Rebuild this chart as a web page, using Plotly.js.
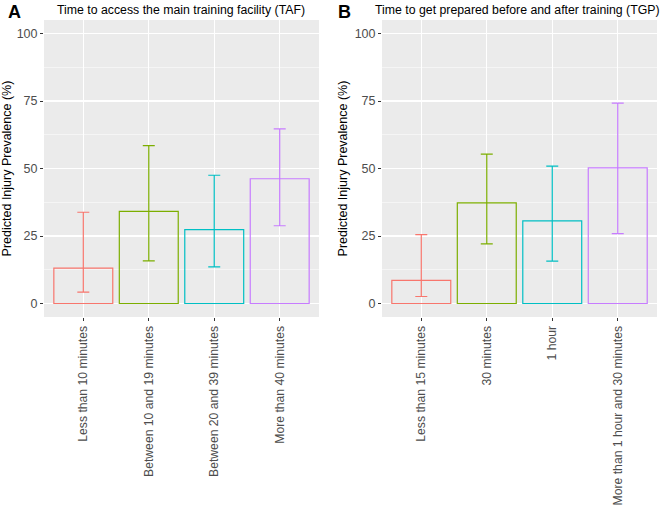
<!DOCTYPE html>
<html><head><meta charset="utf-8">
<script src="https://cdn.plot.ly/plotly-3.0.1.min.js"></script>
<style>body{margin:0;background:#fff}#chart{width:664px;height:510px}</style>
</head><body><div id="chart"></div>
<script>
const catsA = ["Less than 10 minutes","Between 10 and 19 minutes","Between 20 and 39 minutes","More than 40 minutes"];
const valsA = [13.1, 34.1, 27.4, 46.2];
const hiA   = [33.8, 58.5, 47.5, 64.7];
const loA   = [4.2, 15.8, 13.6, 28.8];

const catsB = ["Less than 15 minutes","30 minutes","1 hour","More than 1 hour and 30 minutes"];
const valsB = [8.6, 37.3, 30.6, 50.2];
const hiB   = [25.5, 55.3, 50.9, 74.2];
const loB   = [2.6, 22.1, 15.7, 25.9];

const colors = ["#F8766D","#7CAE00","#00BFC4","#C77CFF"];
const yTicks = [0,25,50,75,100];

const traces = [];
function addPanel(cats, vals, hi, lo, xa, ya){
  cats.forEach((c,i)=>{
    traces.push({
      type:'bar', x:[c], y:[vals[i]], xaxis:xa, yaxis:ya, width:0.9,
      marker:{color:'rgba(0,0,0,0)', line:{color:colors[i], width:1.2}},
      error_y:{type:'data', symmetric:false, array:[hi[i]-vals[i]], arrayminus:[vals[i]-lo[i]],
               color:colors[i], thickness:1.2, width:6},
      showlegend:false, hoverinfo:'skip'
    });
  });
}
addPanel(catsA, valsA, hiA, loA, 'x', 'y');
addPanel(catsB, valsB, hiB, loB, 'x2', 'y2');

const font = {family:'Liberation Sans, Arial, sans-serif'};
function xax(dom, cats){
  return {domain:dom, type:'category', categoryarray:cats, range:[-0.6,3.6],
    showgrid:true, gridcolor:'#ffffff', gridwidth:1.1, zeroline:false,
    ticks:'outside', ticklen:3, tickcolor:'#333333', tickwidth:1,
    tickangle:-90, tickfont:{family:font.family, size:12.2, color:'#4d4d4d'},
    showline:false, fixedrange:true};
}
function yax(anchor){
  return {domain:[0.3784,0.9608], anchor:anchor, range:[-5,105],
    tickvals:yTicks, ticktext:yTicks.map(String),
    showgrid:true, gridcolor:'#ffffff', gridwidth:1.1, zeroline:false,
    minor:{tickvals:[12.5,37.5,62.5,87.5], showgrid:true, gridcolor:'#ffffff', gridwidth:0.5, ticks:''},
    ticks:'outside', ticklen:3, tickcolor:'#333333', tickwidth:1,
    tickfont:{family:font.family, size:12.5, color:'#4d4d4d'},
    title:{text:'Predicted Injury Prevalence (%)', font:{family:font.family, size:12.5, color:'#000'}, standoff:4},
    fixedrange:true};
}

const layout = {
  width:664, height:510, margin:{l:0,r:0,t:0,b:0},
  paper_bgcolor:'#ffffff', plot_bgcolor:'#EBEBEB',
  barmode:'overlay', font:font, showlegend:false,
  xaxis:Object.assign(xax([0.0663,0.4804], catsA), {anchor:'y'}),
  yaxis:yax('x'),
  xaxis2:Object.assign(xax([0.5753,0.9895], catsB), {anchor:'y2'}),
  yaxis2:yax('x2'),
  annotations:[
    {text:'<b>A</b>', xref:'paper', yref:'paper', x:0.009, y:1.0, xanchor:'left', yanchor:'top', showarrow:false, font:{family:font.family,size:18,color:'#000'}},
    {text:'<b>B</b>', xref:'paper', yref:'paper', x:0.506, y:1.0, xanchor:'left', yanchor:'top', showarrow:false, font:{family:font.family,size:18,color:'#000'}},
    {text:'Time to access the main training facility (TAF)', xref:'paper', yref:'paper', x:0.2733, y:0.998, xanchor:'center', yanchor:'top', showarrow:false, font:{family:font.family,size:12.3,color:'#000'}},
    {text:'Time to get prepared before and after training (TGP)', xref:'paper', yref:'paper', x:0.780, y:0.998, xanchor:'center', yanchor:'top', showarrow:false, font:{family:font.family,size:12.3,color:'#000'}}
  ]
};
Plotly.newPlot('chart', traces, layout, {displayModeBar:false, staticPlot:true});
</script></body></html>
